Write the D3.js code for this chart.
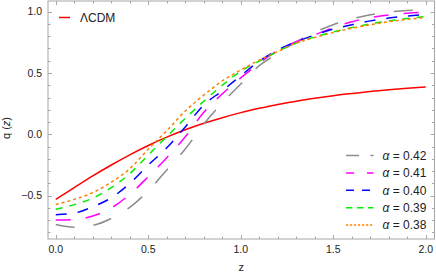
<!DOCTYPE html>
<html>
<head>
<meta charset="utf-8">
<script src="https://cdn.jsdelivr.net/npm/d3@7"></script>
<style>
    body { margin: 0; background: #fff; }
    svg { display: block; font-family: "Liberation Sans", Arial, sans-serif; }
</style>
</head>
<body>
<script>
"use strict";

// redshift grid
var zValues = [0, 0.1, 0.2, 0.3, 0.4, 0.5, 0.6, 0.7, 0.8, 0.9, 1.0,
    1.1, 1.2, 1.3, 1.4, 1.5, 1.6, 1.7, 1.8, 1.9, 2.0];

// deceleration parameter q(z)
var qLCDM = [-0.53, -0.434, -0.339, -0.25, -0.167, -0.091, -0.023, 0.037, 0.09, 0.136, 0.177,
    0.212, 0.244, 0.27, 0.294, 0.315, 0.333, 0.35, 0.364, 0.376, 0.387];
var qA042 = [-0.735, -0.757, -0.742, -0.685, -0.595, -0.46, -0.29, -0.12, 0.085, 0.257, 0.41,
    0.56, 0.66, 0.755, 0.833, 0.894, 0.94, 0.975, 0.998, 1.01, 1.015];
var qA041 = [-0.698, -0.695, -0.665, -0.6, -0.49, -0.345, -0.19, -0.02, 0.18, 0.33, 0.46,
    0.58, 0.685, 0.755, 0.812, 0.87, 0.918, 0.952, 0.974, 0.988, 0.995];
var qA040 = [-0.655, -0.642, -0.59, -0.517, -0.4, -0.25, -0.11, 0.06, 0.24, 0.355, 0.478,
    0.597, 0.688, 0.755, 0.81, 0.858, 0.893, 0.925, 0.948, 0.965, 0.975];
var qA039 = [-0.611, -0.573, -0.52, -0.435, -0.32, -0.168, -0.018, 0.13, 0.27, 0.4, 0.515,
    0.597, 0.675, 0.745, 0.795, 0.835, 0.87, 0.9, 0.925, 0.945, 0.96];
var qA038 = [-0.571, -0.53, -0.475, -0.39, -0.28, -0.12, 0.03, 0.19, 0.32, 0.435, 0.525,
    0.605, 0.675, 0.745, 0.79, 0.83, 0.865, 0.893, 0.918, 0.937, 0.953];

var seriesNames = ["ΛCDM", "0.42", "0.41", "0.40", "0.39", "0.38"];
var seriesValues = [qLCDM, qA042, qA041, qA040, qA039, qA038];

var xTickMajor = [0, 0.5, 1.0, 1.5, 2.0];
var yTickMajor = [-0.5, 0, 0.5, 1.0];

function init() {
    var w = 436;
    var h = 275;
    var left = 48, right = 434.5, top = 1, bottom = 239;

    var colors = ["#ff0000", "#8c8c8c", "#ff00ff", "#0000ff", "#00ee00", "#ff8000"];
    var dashes = [null, "19,19", "15,15", "11,11", "7,7", "3,3"];
    var legendDashes = [null, "13,11.5", "8,13", "8,8", "6.5,4.5", "2.2,1.8"];

    var xScale = d3.scaleLinear()
        .domain([-0.042, 2.047])
        .range([left, right]);

    var yScale = d3.scaleLinear()
        .domain([-0.853, 1.087])
        .range([bottom, top]);

    var svg = d3.select("body")
        .append("svg")
        .attr("width", w)
        .attr("height", h);

    var frameColor = "#a6a6a6";

    //Frame
    svg.append("rect")
        .attr("x", left)
        .attr("y", top)
        .attr("width", right - left)
        .attr("height", bottom - top)
        .attr("fill", "none")
        .attr("stroke", frameColor)
        .attr("stroke-width", 1);

    //Ticks (inward, on all four sides)
    var xMinor = d3.range(0, 21).map(function (i) { return i / 10; });
    var yMinor = d3.range(-8, 11).map(function (i) { return i / 10; });

    function isMajor(v, list) {
        return list.some(function (m) { return Math.abs(m - v) < 1e-6; });
    }

    var ticks = svg.append("g")
        .attr("stroke", frameColor)
        .attr("stroke-width", 1);

    xMinor.forEach(function (v) {
        var len = isMajor(v, xTickMajor) ? 4 : 2.5;
        var px = Math.round(xScale(v)) + 0.5;
        ticks.append("line").attr("x1", px).attr("x2", px)
            .attr("y1", bottom).attr("y2", bottom - len);
        ticks.append("line").attr("x1", px).attr("x2", px)
            .attr("y1", top).attr("y2", top + len);
    });

    yMinor.forEach(function (v) {
        var len = isMajor(v, yTickMajor) ? 4 : 2.5;
        var py = Math.round(yScale(v)) + 0.5;
        ticks.append("line").attr("y1", py).attr("y2", py)
            .attr("x1", left).attr("x2", left + len);
        ticks.append("line").attr("y1", py).attr("y2", py)
            .attr("x1", right).attr("x2", right - len);
    });

    //Tick labels
    svg.selectAll(".xlab")
        .data(xTickMajor)
        .enter()
        .append("text")
        .attr("x", function (d) { return xScale(d); })
        .attr("y", bottom + 14)
        .attr("text-anchor", "middle")
        .attr("font-size", "10.5px")
        .attr("fill", "#222")
        .text(function (d) { return d3.format(".1f")(d); });

    svg.selectAll(".ylab")
        .data(yTickMajor)
        .enter()
        .append("text")
        .attr("x", left - 6)
        .attr("y", function (d) { return yScale(d) + 3.8; })
        .attr("text-anchor", "end")
        .attr("font-size", "10.5px")
        .attr("fill", "#222")
        .text(function (d) { return d3.format(".1f")(d).replace("-", "\u2212"); });

    //Axis titles
    svg.append("text")
        .attr("x", (left + right) / 2)
        .attr("y", 271)
        .attr("text-anchor", "middle")
        .attr("font-size", "11px")
        .attr("fill", "#222")
        .text("z");

    var yTitle = svg.append("text")
        .attr("transform", "translate(10," + 128 + ") rotate(-90)")
        .attr("text-anchor", "middle")
        .attr("font-size", "11px")
        .attr("fill", "#222");
    yTitle.append("tspan").text("q (");
    yTitle.append("tspan").attr("font-style", "italic").text("z");
    yTitle.append("tspan").text(")");

    //Curves
    var line = d3.line()
        .x(function (d, i) { return xScale(zValues[i]); })
        .y(function (d) { return yScale(d); })
        .curve(d3.curveMonotoneX);

    svg.selectAll(".curve")
        .data(seriesValues)
        .enter()
        .append("path")
        .attr("class", "curve")
        .attr("d", function (d) { return line(d); })
        .attr("fill", "none")
        .attr("stroke", function (d, i) { return colors[i]; })
        .attr("stroke-width", 1.5)
        .attr("stroke-dasharray", function (d, i) { return dashes[i]; });

    //Legend: LCDM top left
    svg.append("line")
        .attr("x1", 59).attr("x2", 70)
        .attr("y1", 17.5).attr("y2", 17.5)
        .attr("stroke", colors[0])
        .attr("stroke-width", 1.5);
    svg.append("text")
        .attr("x", 80)
        .attr("y", 22)
        .attr("font-size", "12px")
        .attr("fill", "#222")
        .text(seriesNames[0]);

    //Legend: alpha values bottom right
    var rows = d3.range(1, seriesNames.length);
    var legend = svg.selectAll(".leg")
        .data(rows)
        .enter()
        .append("g")
        .attr("transform", function (d, i) {
            return "translate(0," + (155.5 + i * 17.4) + ")";
        });

    legend.append("line")
        .attr("x1", 346).attr("x2", 373.5)
        .attr("y1", 0).attr("y2", 0)
        .attr("stroke", function (d) { return colors[d]; })
        .attr("stroke-width", 1.5)
        .attr("stroke-dasharray", function (d) { return legendDashes[d]; });

    var lt = legend.append("text")
        .attr("x", 382.5)
        .attr("y", 4.3)
        .attr("font-size", "12px")
        .attr("fill", "#222");
    lt.append("tspan").attr("font-style", "italic").text("α");
    lt.append("tspan").text(function (d) { return " = " + seriesNames[d]; });
}

window.onload = init;
</script>
</body>
</html>
